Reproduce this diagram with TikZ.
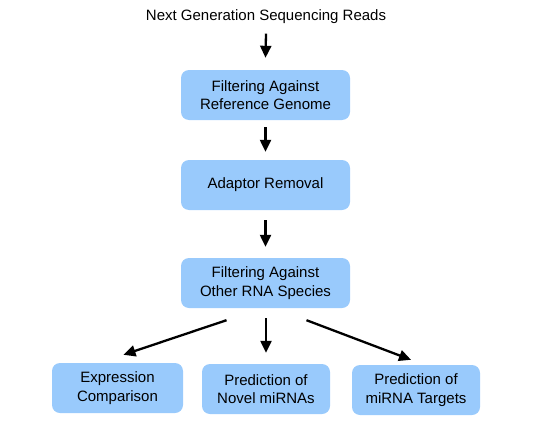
\documentclass[tikz,border=0pt]{standalone}
\usepackage{fontspec}
\setmainfont{Liberation Sans}
\usetikzlibrary{arrows.meta, positioning}
\definecolor{stageblue}{RGB}{153,202,252}
\tikzset{
>={Triangle[length=12pt,width=11pt]}, % filled heads
stage/.style={fill=stageblue, rounded corners=8pt, minimum width=169pt, minimum height=50pt, align=center, texto},
texto/.style={font=\fontsize{15}{18.5}\selectfont},
flow/.style={->, line width=2.3pt}
}
\begin{document}
\begin{tikzpicture}[x=1pt, y=-1pt]
  \useasboundingbox (0,0) rectangle (535,444);
  \node[texto] (reads) at (266,17) {Next Generation Sequencing Reads};
  \node[stage] (refgen) at (265.5,95) {Filtering Against\\Reference Genome};
  \node[stage] (adaptor) at (265.5,185) {Adaptor Removal};
  \node[stage] (rna) at (265.5,283) {Filtering Against\\Other RNA Species};
  \node[stage, minimum width=131pt] (expr) at (117.5,388) {Expression\\Comparison};
  \node[stage, minimum width=128pt] (novel) at (266,389) {Prediction of\\Novel miRNAs};
  \node[stage, minimum width=128pt] (targets) at (416,390) {Prediction of\\miRNA Targets};
  % arrows
  \draw[flow] ([yshift=-6pt]reads.south) -- ([yshift=12pt]refgen.north);
  \draw[flow] ([yshift=-7pt]refgen.south) -- ([yshift=8pt]adaptor.north);
  \draw[flow] ([yshift=-10pt]adaptor.south) -- ([yshift=11pt]rna.north);
  \draw[flow] ([xshift=-39pt,yshift=-12pt]rna.south) -- ([xshift=6pt,yshift=8pt]expr.north);
  \draw[flow] ([xshift=0.5pt,yshift=-10pt]rna.south) -- ([yshift=11pt]novel.north);
  \draw[flow] ([xshift=41pt,yshift=-12pt]rna.south) -- ([xshift=-5pt,yshift=5pt]targets.north);
\end{tikzpicture}
\end{document}
